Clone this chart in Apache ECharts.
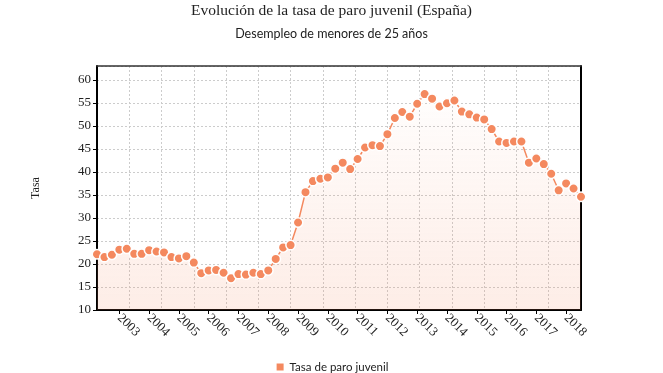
<!DOCTYPE html>
<html>
<head>
<meta charset="utf-8">
<script src="https://cdn.jsdelivr.net/npm/echarts@6/dist/echarts.min.js"></script>
<style>html,body{margin:0;padding:0;background:#fff}#c{width:663px;height:373px}</style>
</head>
<body>
<div id="c"></div>
<script>
// Quarterly categories 2002T2 .. 2018T3
const quarters = [];
for (let y = 2002; y <= 2018; y++) {
  for (let q = 1; q <= 4; q++) {
    if (y === 2002 && q < 2) continue;
    if (y === 2018 && q > 3) continue;
    quarters.push(y + 'T' + q);
  }
}
const tasaParoJuvenil = [
  22.1, 21.5, 22.0, 23.1, 23.3, 22.2, 22.2, 23.0, 22.7, 22.5,
  21.5, 21.2, 21.7, 20.3, 18.0, 18.6, 18.7, 18.1, 16.9, 17.8,
  17.7, 18.1, 17.8, 18.6, 21.1, 23.6, 24.1, 29.0, 35.6, 38.0,
  38.5, 38.8, 40.7, 42.0, 40.6, 42.8, 45.3, 45.8, 45.6, 48.2,
  51.7, 53.0, 52.0, 54.8, 56.9, 55.9, 54.2, 54.9, 55.5, 53.1,
  52.5, 51.8, 51.4, 49.3, 46.6, 46.3, 46.6, 46.6, 42.0, 42.9,
  41.7, 39.6, 36.0, 37.5, 36.4, 34.6
];
const yMin = 10, yMax = 63, yStep = 5;

const color = '#f4895f';
const gridLine = {show: true, lineStyle: {color: '#ccc', type: [2, 2], width: 1}};
const chart = echarts.init(document.getElementById('c'), null, {renderer: 'canvas'});
chart.setOption({
  animation: false,
  title: [{
    text: 'Evolución de la tasa de paro juvenil (España)',
    left: 'center', top: -2,
    textStyle: {fontFamily: 'Liberation Serif', fontSize: 15.5, fontWeight: 'normal', color: '#222'}
  }, {
    text: 'Desempleo de menores de 25 años',
    left: 'center', top: 22,
    textStyle: {fontFamily: 'Lato', fontSize: 12.5, fontWeight: 'normal', color: '#222'}
  }],
  legend: {
    bottom: -5, left: 'center',
    icon: 'rect', itemWidth: 9, itemHeight: 9, itemGap: 5,
    textStyle: {fontFamily: 'Lato', fontSize: 11.5, color: '#222'},
    data: ['Tasa de paro juvenil']
  },
  grid: {left: 97, right: 82, top: 66, bottom: 63},
  xAxis: [{
    type: 'category',
    data: quarters,
    boundaryGap: false,
    axisLine: {lineStyle: {color: '#000', width: 2}},
    axisTick: {show: true, alignWithLabel: true, interval: (i) => i % 4 === 3, length: 4, lineStyle: {color: '#000'}},
    axisLabel: {
      interval: (i) => i % 4 === 3,
      formatter: (v) => v.slice(0, 4),
      rotate: -45,
      fontFamily: 'Liberation Serif', fontSize: 13, color: '#222', margin: 6
    },
    splitLine: {show: false}
  }, {
    type: 'value', min: 0, max: 15, interval: 1,
    position: 'top',
    axisLine: {show: true, onZero: false, lineStyle: {color: '#333', width: 1.5}},
    axisTick: {show: false}, axisLabel: {show: false},
    splitLine: gridLine
  }],
  yAxis: [{
    type: 'value', min: yMin, max: yMax, interval: yStep,
    name: 'Tasa', nameLocation: 'middle', nameRotate: 90, nameGap: 55,
    nameTextStyle: {fontFamily: 'Liberation Serif', fontSize: 12, color: '#222'},
    axisLine: {show: true, lineStyle: {color: '#000', width: 2}},
    axisTick: {show: true, length: 4, lineStyle: {color: '#000'}},
    axisLabel: {fontFamily: 'Liberation Serif', fontSize: 13, color: '#222', margin: 6, showMaxLabel: false},
    splitLine: gridLine
  }, {
    type: 'value', min: yMin, max: yMax, interval: yStep,
    position: 'right',
    axisLine: {show: true, onZero: false, lineStyle: {color: '#000', width: 2}},
    axisTick: {show: false}, axisLabel: {show: false}, splitLine: {show: false}
  }],
  series: [{
    name: 'Tasa de paro juvenil',
    type: 'line',
    xAxisIndex: 0, yAxisIndex: 0,
    data: tasaParoJuvenil,
    showAllSymbol: true,
    symbol: 'circle', symbolSize: 9.5,
    itemStyle: {color: color, borderColor: '#fff', borderWidth: 1.5},
    lineStyle: {color: color, width: 1.5},
    areaStyle: {
      color: new echarts.graphic.LinearGradient(0, 0, 0, 1, [
        {offset: 0, color: 'rgba(244,137,95,0.02)'},
        {offset: 1, color: 'rgba(244,137,95,0.22)'}
      ])
    }
  }]
});
</script>
</body>
</html>
